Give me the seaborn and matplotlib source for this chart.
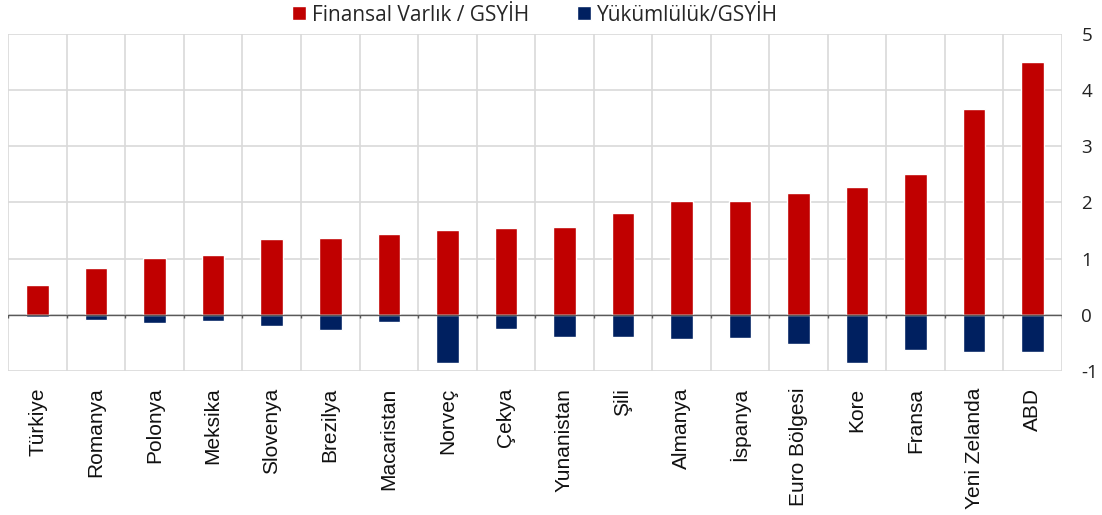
import matplotlib
matplotlib.use("Agg")
import matplotlib.pyplot as plt
import seaborn as sns
import pandas as pd
import numpy as np

countries = ["Türkiye", "Romanya", "Polonya", "Meksika", "Slovenya", "Brezilya",
             "Macaristan", "Norveç", "Çekya", "Yunanistan", "Şili", "Almanya",
             "İspanya", "Euro Bölgesi", "Kore", "Fransa", "Yeni Zelanda", "ABD"]
assets = [0.53, 0.83, 1.01, 1.06, 1.35, 1.37, 1.44, 1.51, 1.54, 1.57,
          1.81, 2.02, 2.03, 2.17, 2.27, 2.51, 3.66, 4.50]
liabilities = [-0.04, -0.10, -0.15, -0.11, -0.19, -0.27, -0.12, -0.85, -0.26, -0.40,
               -0.40, -0.43, -0.41, -0.52, -0.86, -0.63, -0.66, -0.66]
series_names = ["Finansal Varlık / GSYİH", "Yükümlülük/GSYİH"]
colors = ["#C00000", "#002060"]

df = pd.DataFrame({
    "country": countries * 2,
    "value": assets + liabilities,
    "series": [series_names[0]] * len(countries) + [series_names[1]] * len(countries),
})

sns.set_theme(style="white")
plt.rcParams['font.family'] = ['Open Sans', 'DejaVu Sans']
plt.rcParams['axes.unicode_minus'] = False

fig = plt.figure(figsize=(11.02, 5.15), dpi=100)
ax = fig.add_axes([0.0075, 0.2796, 0.9562, 0.6544])

sns.barplot(data=df, x="country", y="value", hue="series", palette=colors,
            dodge=False, width=0.385, ax=ax, saturation=1, legend=True)

n = len(countries)
ax.set_xlim(-0.5, n - 0.5)
ax.set_ylim(-1, 5)
ax.set_yticks(range(-1, 6))
ax.yaxis.tick_right()
ax.tick_params(axis="y", length=0, pad=14, labelsize=13.5, labelcolor="#222222")
ax.tick_params(axis="x", length=0, pad=12)
ax.set_xticks(range(n))
ax.set_xticklabels(countries, rotation=90, fontsize=15,
                   family=['Liberation Sans', 'DejaVu Sans'], color="#111111")
ax.set_xlabel("")
ax.set_ylabel("")

# grid: horizontal at integers, vertical at category boundaries
for yv in range(-1, 6):
    ax.axhline(yv, color="#d9d9d9", lw=1.2, zorder=0)
for xv in np.arange(-0.5, n, 1.0):
    ax.axvline(xv, color="#d9d9d9", lw=1.2, zorder=0)
ax.axhline(0, color="#595959", lw=1, zorder=3)
ax.vlines(np.arange(-0.5, n, 1.0), -0.06, 0, color="#595959", lw=1, zorder=3)

for s in ax.spines.values():
    s.set_visible(False)

sns.move_legend(ax, "lower center", bbox_to_anchor=(0.5, 1.0), ncol=2, frameon=False,
                title=None, fontsize=15, handlelength=0.67, handleheight=0.67,
                handletextpad=0.3, columnspacing=2.3, borderaxespad=0.0)

fig.savefig("out.png", dpi=100)
